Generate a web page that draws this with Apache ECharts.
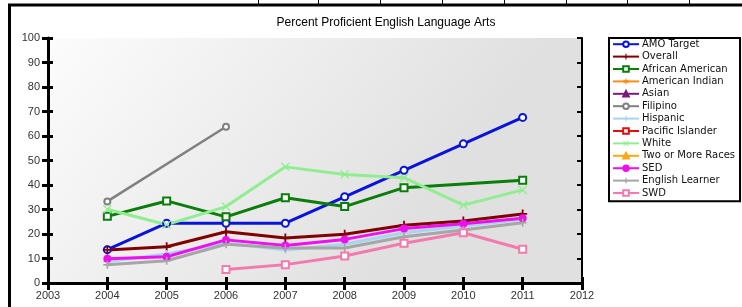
<!DOCTYPE html>
<html><head><meta charset="utf-8">
<script src="https://cdn.jsdelivr.net/npm/echarts@6/dist/echarts.min.js"></script>
<style>html,body{margin:0;padding:0;background:#fff}#c{width:742px;height:307px}</style>
</head><body><div id="c"></div>
<script>
var years = [2004, 2005, 2006, 2007, 2008, 2009, 2010, 2011];
var seriesNames = ['AMO Target','Overall','African American','American Indian','Asian','Filipino','Hispanic','Pacific Islander','White','Two or More Races','SED','English Learner','SWD'];
var amoTarget       = [13.6, 24.4, 24.4, 24.4, 35.2, 46.0, 56.8, 67.6];
var overall         = [13.5, 14.8, 20.9, 18.4, 19.9, 23.6, 25.3, 28.2];
var africanAmerican = [27.2, 33.5, 27.0, 34.8, 31.2, 38.9, null, 41.9];
var americanIndian  = [null, null, null, null, null, null, null, null];
var asian           = [null, null, null, null, null, null, null, null];
var filipino        = [33.3, null, 63.8, null, null, null, null, null];
var hispanic        = [8.8, 11.8, 16.3, 13.5, 15.8, 20.5, 23.3, 26.0];
var pacificIslander = [null, null, null, null, null, null, null, null];
var white           = [30.1, 23.8, 31.2, 47.4, 44.3, 43.0, 31.8, 38.0];
var twoOrMore       = [null, null, null, null, null, null, null, null];
var sed             = [9.9, 10.7, 17.6, 15.3, 17.8, 22.2, 24.2, 26.4];
var englishLearner  = [7.4, 9.1, 15.8, 14.3, 14.3, 18.9, 21.6, 24.6];
var swd             = [null, null, 5.5, 7.5, 11.0, 16.2, 20.5, 13.8];
var titleText = 'Percent Proficient English Language Arts';

var PLUS = 'path://M4,0H6V4H10V6H6V10H4V6H0V4H4Z';
var XMARK = 'path://M0,1L1,0L5,4L9,0L10,1L6,5L10,9L9,10L5,6L1,10L0,9L4,5Z';
var ASTER = 'path://M4,0H6V3.5L9,1.5L10,3L7,5L10,7L9,8.5L6,6.5V10H4V6.5L1,8.5L0,7L3,5L0,3L1,1.5L4,3.5Z';

function pairs(arr){ return years.map(function(y,i){ return [y, arr[i]]; }); }
function mk(name, arr, color, symbol, size, width, extra){
  var s = {
    name: name, type: 'line', data: pairs(arr), xAxisIndex: 0, yAxisIndex: 0,
    symbol: symbol, symbolSize: size, showSymbol: true,
    lineStyle: {color: color, width: width},
    itemStyle: {color: color, borderColor: color, borderWidth: 2},
    connectNulls: false, animation: false
  };
  if (extra) for (var k in extra) s[k] = extra[k];
  return s;
}

var chart = echarts.init(document.getElementById('c'), null, {renderer: 'canvas'});
var font = 'Liberation Sans, Arial, sans-serif';
var axisBase = {type: 'value', min: 2003, max: 2012, interval: 1};
chart.setOption({
  backgroundColor: '#fff',
  animation: false,
  title: {text: titleText, left: 381, textAlign: 'center', top: 12,
    textStyle: {fontFamily: font, fontSize: 12, fontWeight: 'normal', color: '#000'}},
  grid: {left: 48, top: 38, right: 160, bottom: 24, show: true, borderWidth: 0,
    backgroundColor: new echarts.graphic.LinearGradient(0, 0, 0.6, 1, [
      {offset: 0, color: '#fcfcfc'}, {offset: 1, color: '#e0e0e0'}])},
  legend: {
    orient: 'vertical', left: 609, top: 38, data: seriesNames,
    itemWidth: 26, itemHeight: 7, itemGap: 0,
    padding: [0, 5, 2, 3], borderColor: '#000', borderWidth: 2,
    backgroundColor: '#fff',
    textStyle: {fontFamily: 'DejaVu Sans', fontSize: 10, color: '#111', lineHeight: 12.4, padding: [0,0,0,-2]}
  },
  xAxis: [
    Object.assign({}, axisBase, {position: 'bottom',
      axisLine: {show: true, lineStyle: {color: '#000', width: 3}},
      axisTick: {show: true, inside: false, length: 7, lineStyle: {color: '#000', width: 3}},
      axisLabel: {margin: 7, fontFamily: font, fontSize: 11, color: '#333', formatter: function(v){ return String(v); }},
      splitLine: {show: false}}),
    Object.assign({}, axisBase, {position: 'bottom',
      axisLine: {show: false},
      axisTick: {show: true, inside: true, length: 6, lineStyle: {color: '#000', width: 3}},
      axisLabel: {show: false}, splitLine: {show: false}}),
    Object.assign({}, axisBase, {position: 'top',
      axisLine: {show: true, lineStyle: {color: '#000', width: 2}},
      axisTick: {show: true, inside: true, length: 4, lineStyle: {color: '#000', width: 2}},
      axisLabel: {show: false}, splitLine: {show: false}})
  ],
  yAxis: [
    {type: 'value', min: 0, max: 100, interval: 10, position: 'left',
      axisLine: {show: true, lineStyle: {color: '#000', width: 3}},
      axisTick: {show: true, inside: false, length: 6, lineStyle: {color: '#000', width: 3}},
      axisLabel: {margin: 8, fontFamily: font, fontSize: 11, color: '#333'},
      splitLine: {show: false}},
    {type: 'value', min: 0, max: 100, interval: 10, position: 'left',
      axisLine: {show: false},
      axisTick: {show: true, inside: true, length: 5, lineStyle: {color: '#000', width: 3}},
      axisLabel: {show: false}, splitLine: {show: false}},
    {type: 'value', min: 0, max: 100, interval: 10, position: 'right',
      axisLine: {show: true, lineStyle: {color: '#000', width: 2}},
      axisTick: {show: true, inside: true, length: 5, lineStyle: {color: '#000', width: 2}},
      axisLabel: {show: false}, splitLine: {show: false}}
  ],
  graphic: [
    {type: 'line', shape: {x1: 8, y1: 5, x2: 742, y2: 5}, style: {stroke: '#000', lineWidth: 3}, silent: true},
    {type: 'line', shape: {x1: 9.5, y1: 4, x2: 9.5, y2: 307}, style: {stroke: '#000', lineWidth: 3}, silent: true},
    {type: 'group', children: [258, 318, 380, 442, 504, 566, 627, 689].map(function(x){
      return {type: 'line', shape: {x1: x + 0.5, y1: 0, x2: x + 0.5, y2: 4}, style: {stroke: '#000', lineWidth: 1}, silent: true};
    })}
  ],
  series: [
    mk('AMO Target', amoTarget, '#0a14d8', 'emptyCircle', 7, 3),
    mk('Overall', overall, '#800000', PLUS, 9, 3, {itemStyle: {color: '#800000', borderWidth: 0}}),
    mk('African American', africanAmerican, '#0a7d0a', 'emptyRect', 7, 3, {connectNulls: true}),
    mk('American Indian', americanIndian, '#ff8c1a', ASTER, 9, 3, {itemStyle: {color: '#ff8c1a', borderWidth: 0}}),
    mk('Asian', asian, '#7a1a7a', 'triangle', 8, 3),
    mk('Filipino', filipino, '#808080', 'emptyCircle', 6, 2.5, {connectNulls: true}),
    mk('Hispanic', hispanic, '#a8d4ec', PLUS, 8, 3, {itemStyle: {color: '#a8d4ec', borderWidth: 0}}),
    mk('Pacific Islander', pacificIslander, '#e01010', 'emptyRect', 7, 3),
    mk('White', white, '#90ee90', XMARK, 9, 3, {itemStyle: {color: '#90ee90', borderWidth: 0}}),
    mk('Two or More Races', twoOrMore, '#ffa812', 'triangle', 8, 3),
    mk('SED', sed, '#ee10ee', 'circle', 6, 3),
    mk('English Learner', englishLearner, '#a6a6a6', PLUS, 8, 3, {itemStyle: {color: '#a6a6a6', borderWidth: 0}}),
    mk('SWD', swd, '#f27aac', 'emptyRect', 7, 3)
  ]
});
</script></body></html>
